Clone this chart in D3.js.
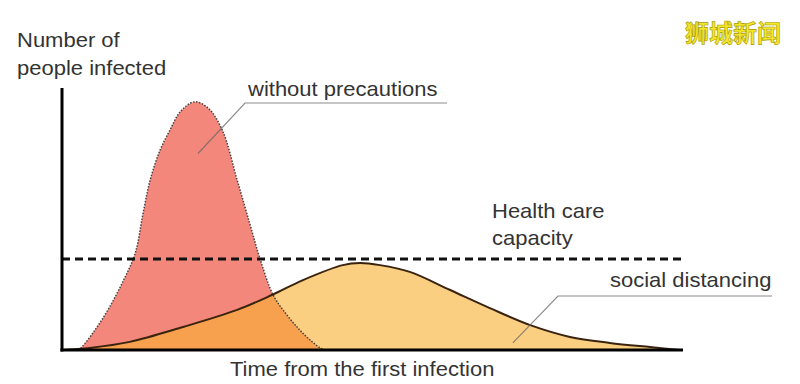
<!DOCTYPE html>
<html>
<head>
<meta charset="utf-8">
<script src="https://cdn.jsdelivr.net/npm/d3@7"></script>
<style>
body{margin:0;background:#fff;}
text{font-family:"Liberation Sans",Arial,sans-serif;fill:#333;}
</style>
</head>
<body>
<svg width="800" height="384"></svg>
<script>
// time (0-100) and infected (0-100)
const noPrecT = [2.6, 3.2, 5.3, 7.4, 9.7, 11.8, 13.0, 14.2, 15.8, 17.4, 19.0, 21.3, 23.5, 25.8, 28.2, 30.3, 31.9, 34.0, 36.2, 38.3, 40.3, 41.9, 42.8];
const noPrecV = [0, 1.1, 7.6, 15.3, 25.6, 37.0, 51.5, 64.9, 76.3, 84.0, 90.8, 94.7, 92.4, 84.0, 64.9, 47.7, 34.7, 21.0, 13.4, 7.6, 3.1, 0.4, 0];
const socialT = [0, 4.5, 10.9, 19.5, 28.2, 33.8, 38.8, 45.2, 48.0, 51.2, 56.0, 62.5, 68.9, 75.4, 81.8, 88.2, 94.7, 99.5];
const socialV = [0, 0.8, 3.1, 8.8, 15.3, 21.0, 26.7, 32.4, 33.2, 32.4, 29.8, 22.9, 16.0, 9.5, 5.0, 2.7, 1.1, 0];
const capacity = 34.7;

const svg = d3.select('svg');
const x = d3.scaleLinear().domain([0,100]).range([62,683]);
const y = d3.scaleLinear().domain([0,100]).range([350,88]);

const red = noPrecT.map((t,i)=>({t:t,v:noPrecV[i]}));
const yel = socialT.map((t,i)=>({t:t,v:socialV[i]}));

const area = d3.area().x(d=>x(d.t)).y0(y(0)).y1(d=>y(d.v)).curve(d3.curveCatmullRom);
const line = d3.line().x(d=>x(d.t)).y(d=>y(d.v)).curve(d3.curveCatmullRom);

svg.append('defs').append('clipPath').attr('id','redclip')
   .append('path').attr('d',area(red));

svg.append('path').attr('d',area(yel)).attr('fill','#fbcf82');
svg.append('path').attr('d',area(red)).attr('fill','#f3877b');
svg.append('path').attr('d',area(yel)).attr('fill','#f7a04e').attr('clip-path','url(#redclip)');

svg.append('path').attr('d',line(red)).attr('fill','none')
   .attr('stroke','#444').attr('stroke-width',1.5).attr('stroke-dasharray','1.5,1.5');
svg.append('path').attr('d',line(yel)).attr('fill','none')
   .attr('stroke','#3a2410').attr('stroke-width',2);

// capacity
svg.append('line').attr('x1',x(0)).attr('x2',x(100.3)).attr('y1',y(capacity)).attr('y2',y(capacity))
   .attr('stroke','#111').attr('stroke-width',3).attr('stroke-dasharray','8,5');

// axes
svg.append('line').attr('x1',x(0)).attr('x2',x(0)).attr('y1',y(100)).attr('y2',y(0)+1.5)
   .attr('stroke','#000').attr('stroke-width',3);
svg.append('line').attr('x1',x(0)-1.5).attr('x2',x(100)).attr('y1',y(0)).attr('y2',y(0))
   .attr('stroke','#000').attr('stroke-width',3);

// annotations
svg.append('polyline').attr('points',[[x(21.9),y(75)],[245,103],[447,103]].join(' '))
   .attr('fill','none').attr('stroke','#666').attr('stroke-opacity',0.75).attr('stroke-width',1.2);
svg.append('polyline').attr('points',[[x(72.6),y(2.7)],[558,296],[772,296]].join(' '))
   .attr('fill','none').attr('stroke','#666').attr('stroke-opacity',0.75).attr('stroke-width',1.2);

const labels = ['Number of','people infected','without precautions','Health care','capacity','social distancing','Time from the first infection'];
const spots = [[17,47],[17,75],[248,96],[492,218],[492,245],[610,287],[230,376]];
svg.selectAll('g.lab').data(labels).enter().append('g').attr('class','lab')
   .attr('transform',(d,i)=>'translate('+spots[i][0]+','+spots[i][1]+') scale(1.1,1)')
   .append('text').attr('font-size',20).text(d=>d);

// watermark
svg.append('text').attr('x',733).attr('y',42).attr('text-anchor','middle')
   .attr('font-size',24).attr('font-weight','bold')
   .style('font-family','"Noto Sans CJK SC"').style('fill','#f2e62a')
   .style('stroke','#a89a00').style('stroke-width',0.6)
   .text('狮城新闻');
</script>
</body>
</html>
